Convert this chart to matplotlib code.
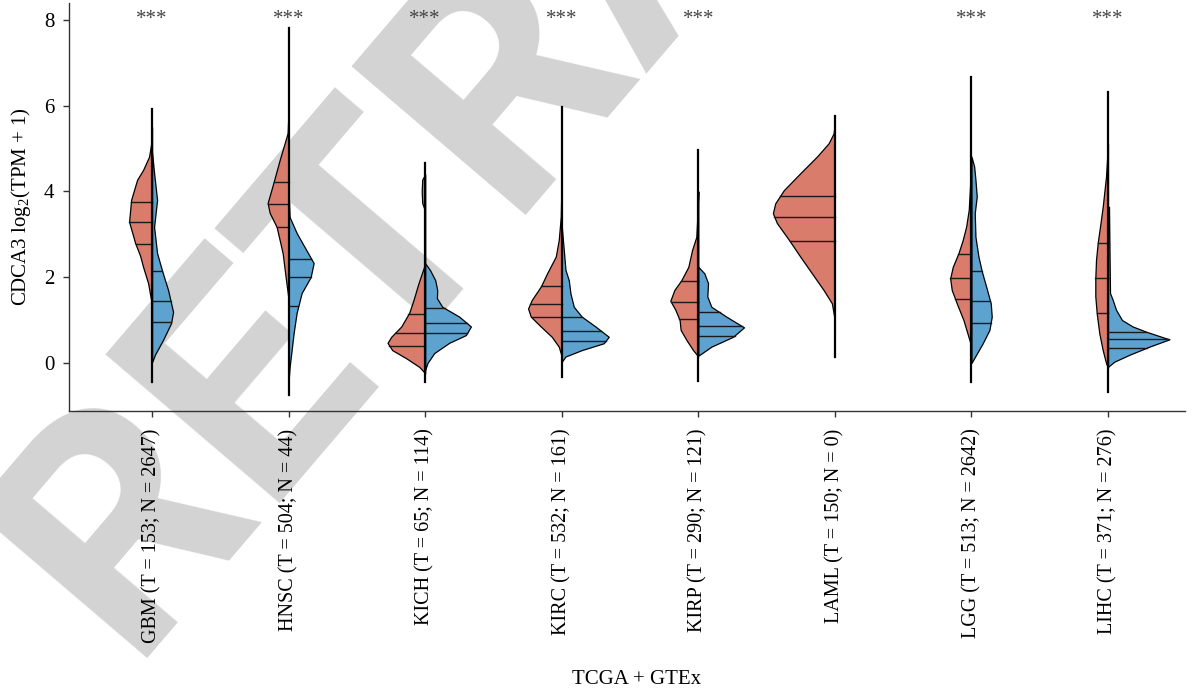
import numpy as np
import matplotlib
matplotlib.use("Agg")
import matplotlib.pyplot as plt

# ---------------- data ----------------
cancers = ["GBM", "HNSC", "KICH", "KIRC", "KIRP", "LAML", "LGG", "LIHC"]
n_tumor = [153, 504, 65, 532, 290, 150, 513, 371]
n_normal = [2647, 44, 114, 161, 121, 0, 2642, 276]
signif = ["***", "***", "***", "***", "***", "", "***", "***"]

# whisker range (min, max) of log2(TPM+1)
range_min = [-0.44, -0.75, -0.44, -0.32, -0.43, 0.15, -0.44, -0.67]
range_max = [5.92, 7.80, 4.67, 5.96, 4.97, 5.76, 6.67, 6.32]

# tumor density profiles: (expression value, relative density)
tumor_y = {
    "GBM":  [5.5, 5.1, 4.81, 4.5, 4.27, 3.8, 3.29, 2.8, 2.5, 2.24, 1.86, 1.47, 1.17],
    "HNSC": [5.97, 5.36, 5.2, 4.73, 4.22, 3.73, 3.5, 3.17, 2.56, 2.0, 1.47],
    "KICH": [4.4, 4.27, 4.0, 3.73, 3.6, 2.25, 1.86, 1.47, 1.17, 0.85, 0.61, 0.47, 0.30, 0.11, -0.09, -0.24],
    "KIRC": [4.5, 3.41, 2.87, 2.48, 2.09, 1.78, 1.47, 1.27, 1.08, 0.85, 0.61, 0.38, 0.15],
    "KIRP": [4.0, 3.41, 2.94, 2.63, 2.24, 1.93, 1.70, 1.45, 1.24, 1.00, 0.77, 0.54, 0.30, 0.15],
    "LAML": [5.6, 5.35, 5.12, 4.81, 4.42, 4.03, 3.72, 3.49, 3.26, 2.87, 2.48, 2.09, 1.70, 1.39, 1.08, 0.6],
    "LGG":  [4.5, 3.57, 3.18, 2.87, 2.56, 2.24, 1.97, 1.70, 1.39, 1.00, 0.69, 0.38],
    "LIHC": [5.12, 4.34, 3.64, 3.18, 2.80, 2.40, 1.97, 1.55, 1.16, 0.69, 0.30, 0.00, -0.12],
}
tumor_d = {
    "GBM":  [0.5, 1, 3, 9, 15, 21, 23, 17, 12, 9, 4, 1, 0],
    "HNSC": [0, 1, 3, 9, 15, 21, 19, 12, 6, 3, 0],
    "KICH": [0, 3, 3.5, 3, 1, 1, 6.7, 11.7, 16, 24, 34, 37.7, 33, 19, 6, 0],
    "KIRC": [0, 1, 3, 6, 14.7, 21, 30, 33.7, 31, 21, 10, 3, 0],
    "KIRP": [0, 1, 2, 6.3, 10, 17, 24, 28, 23, 18.7, 17.7, 12, 5.3, 0],
    "LAML": [0, 1.3, 6.3, 18, 34.7, 51, 59.7, 62, 58, 46, 34.7, 23, 11.3, 3, 0.7, 0],
    "LGG":  [0.5, 2.7, 5.3, 8.7, 13, 18.7, 21.3, 19.7, 14.7, 8, 4, 0],
    "LIHC": [0, 2, 5.3, 8, 10.3, 12, 12.7, 12.7, 11.3, 8.7, 5.3, 2, 0],
}
tumor_quart = {
    "GBM": [3.75, 3.29, 2.77], "HNSC": [4.22, 3.70, 3.17], "KICH": [1.14, 0.69, 0.40],
    "KIRC": [1.80, 1.38, 1.06], "KIRP": [1.92, 1.43, 1.03], "LAML": [3.90, 3.41, 2.84],
    "LGG": [2.54, 1.97, 1.48], "LIHC": [2.80, 1.97, 1.17],
}

# normal density profiles
normal_y = {
    "GBM":  [4.9, 4.43, 3.8, 3.17, 2.56, 2.15, 1.7, 1.19, 0.93, 0.54, 0.2, 0.02],
    "HNSC": [3.96, 3.4, 3.03, 2.7, 2.33, 2.0, 1.63, 1.17, 0.7, -0.09, -0.4],
    "KICH": [2.32, 2.17, 1.93, 1.70, 1.51, 1.31, 1.08, 0.85, 0.65, 0.47, 0.23, 0.0, -0.16],
    "KIRC": [3.18, 2.17, 1.93, 1.62, 1.31, 1.08, 0.85, 0.61, 0.46, 0.30, 0.15, 0.03],
    "KIRP": [2.24, 2.09, 1.86, 1.55, 1.31, 1.08, 0.83, 0.61, 0.38, 0.19],
    "LAML": [],
    "LGG":  [4.81, 4.58, 4.27, 3.88, 3.49, 2.94, 2.48, 2.14, 1.78, 1.39, 1.08, 0.77, 0.46, 0.15, 0.0],
    "LIHC": [3.64, 2.6, 1.63, 1.47, 1.24, 1.00, 0.85, 0.73, 0.55, 0.38, 0.19, 0.03, -0.09],
}
normal_d = {
    "GBM":  [0, 2, 5, 2, 5, 10, 16, 21, 19, 11, 3, 0],
    "HNSC": [0, 1, 8, 16, 25, 22, 13, 8, 5, 1, 0],
    "KICH": [0, 4.7, 10, 12, 11.7, 17, 34, 45.7, 40.7, 24, 9, 2.3, 0],
    "KIRC": [0, 3.7, 7, 8.7, 12, 20, 33.7, 47, 42, 20, 3.7, 0],
    "KIRP": [0, 6, 9.7, 9, 13, 28, 45.7, 34.7, 13, 1.3],
    "LAML": [],
    "LGG":  [0, 2.7, 4, 5.3, 3.3, 4, 7, 10.3, 14.7, 19.3, 20.3, 18, 11.3, 3.7, 0],
    "LIHC": [1, 1.5, 2, 4.7, 8, 14, 24.7, 38, 61.3, 41.3, 21.3, 6.3, 0],
}
normal_quart = {
    "GBM": [2.15, 1.45, 0.95], "HNSC": [2.42, 2.00, 1.33], "KICH": [1.27, 0.92, 0.69],
    "KIRC": [1.08, 0.75, 0.52], "KIRP": [1.18, 0.86, 0.64], "LAML": [],
    "LGG": [2.14, 1.45, 0.93], "LIHC": [0.73, 0.55, 0.36],
}

# ---------------- style ----------------
TUMOR_COLOR = "#D97C6C"
NORMAL_COLOR = "#5EA3CF"
DENSITY_SCALE = 1.0 / 136.6  # relative density -> axis units
FS = 15

plt.rcParams["font.family"] = ["Liberation Serif", "DejaVu Serif"]
plt.rcParams["mathtext.fontset"] = "custom"
plt.rcParams["mathtext.rm"] = "Liberation Serif"
plt.rcParams["mathtext.it"] = "Liberation Serif:italic"

fig = plt.figure(figsize=(12.01, 6.95), dpi=100)
ax = fig.add_axes([0.0575, 0.4086, 0.9292, 0.5871])
ax.patch.set_visible(False)

# watermark
fig.text(0.1063, 0.0535, "RETRACTED", fontsize=231, color="#D3D3D3",
         family=["Roboto", "DejaVu Sans"], weight="bold", rotation=49.5,
         ha="left", va="baseline", rotation_mode="anchor", zorder=-5,
         transform=fig.transFigure)


def half_violin(ax, x0, ys, ds, quarts, side, color):
    ys = np.asarray(ys, float)
    ws = np.asarray(ds, float) * DENSITY_SCALE
    if len(ys) == 0:
        return
    if side < 0:
        ax.fill_betweenx(ys, x0 - ws, x0, facecolor=color, edgecolor="black",
                         linewidth=0.9, zorder=2)
    else:
        ax.fill_betweenx(ys, x0, x0 + ws, facecolor=color, edgecolor="black",
                         linewidth=0.9, zorder=2)
    order = np.argsort(ys)
    for q in quarts:
        w = np.interp(q, ys[order], ws[order])
        ax.plot([x0, x0 + side * w], [q, q], color="#1a1a1a", lw=1.0, zorder=3)


for i, c in enumerate(cancers):
    half_violin(ax, i, tumor_y[c], tumor_d[c], tumor_quart[c], -1, TUMOR_COLOR)
    half_violin(ax, i, normal_y[c], normal_d[c], normal_quart[c], 1, NORMAL_COLOR)
    ax.plot([i, i], [range_min[i], range_max[i]], color="black", lw=1.6, zorder=4)
    if signif[i]:
        ax.text(i, 8.0, signif[i], ha="center", va="center", fontsize=FS,
                color="#444444", zorder=5)

labels = [f"{c} (T = {t}; N = {n})" for c, t, n in zip(cancers, n_tumor, n_normal)]
ax.set_xticks(range(len(cancers)))
ax.set_xticklabels(labels, rotation=90, fontsize=14.5)
ax.set_yticks([0, 2, 4, 6, 8])
ax.tick_params(axis="both", length=4.5, width=1, direction="out",
               color="#333333")
ax.tick_params(axis="x", pad=8, labelsize=14.5)
ax.tick_params(axis="y", pad=6, labelsize=FS)
ax.set_xlim(-0.608, 7.564)
ax.set_ylim(-1.12, 8.39)
for s in ["top", "right"]:
    ax.spines[s].set_visible(False)
for s in ["left", "bottom"]:
    ax.spines[s].set_linewidth(1.0)
    ax.spines[s].set_color("#333333")

ax.set_ylabel(r"CDCA3 $\mathrm{log}_2$(TPM + 1)", fontsize=15)
ax.yaxis.set_label_coords(-0.0325, 0.50)
fig.text(0.53, 0.0216, "TCGA + GTEx", ha="center", va="center", fontsize=FS)

fig.savefig("out.png", dpi=100)
